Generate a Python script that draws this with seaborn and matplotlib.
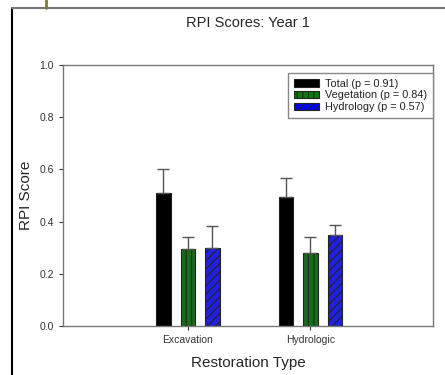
import pandas as pd
import matplotlib.pyplot as plt
import seaborn as sns
from matplotlib.lines import Line2D
from matplotlib.patches import Patch

# values
restoration_types = ["Excavation", "Hydrologic"]
components = ["Total", "Vegetation", "Hydrology"]
legend_labels = ["Total (p = 0.91)", "Vegetation (p = 0.84)", "Hydrology (p = 0.57)"]
total_mean = [0.51, 0.495]
total_err = [0.09, 0.073]
veg_mean = [0.295, 0.28]
veg_err = [0.045, 0.06]
hydro_mean = [0.30, 0.35]
hydro_err = [0.085, 0.037]

colors = ["#000000", "#0b7a0b", "#0000ff"]
hatches = [None, "|||", "////"]


def main():
    df = pd.DataFrame({
        "Type": restoration_types * 3,
        "Component": [c for c in components for _ in restoration_types],
        "Score": total_mean + veg_mean + hydro_mean,
        "Err": total_err + veg_err + hydro_err,
    })

    sns.set_style("ticks")
    plt.rcParams["font.family"] = ["Liberation Sans", "DejaVu Sans"]
    plt.rcParams["hatch.linewidth"] = 0.8

    fig = plt.figure(figsize=(4.45, 3.75), dpi=100)
    ax = fig.add_axes([0.1416, 0.1307, 0.8314, 0.696])

    sns.barplot(
        data=df, x="Type", y="Score", hue="Component",
        hue_order=components, palette=colors,
        width=0.6, gap=0.4, errorbar=None,
        edgecolor="#222222", linewidth=0.8, legend=False, ax=ax,
    )

    # hatches + error bars (upper only) on each bar
    for cont, comp, h in zip(ax.containers, components, hatches):
        sub = df[df["Component"] == comp]
        for patch, (_, row) in zip(cont.patches, sub.iterrows()):
            if h:
                patch.set_hatch(h)
            xc = patch.get_x() + patch.get_width() / 2
            ax.errorbar(xc, row["Score"], yerr=[[0], [row["Err"]]],
                        fmt="none", ecolor="#555555", elinewidth=1.0,
                        capsize=4, capthick=1.0, zorder=1)

    ax.set_xlim(-1.02, 2.0)
    ax.set_ylim(0, 1.0)
    ax.set_yticks([0.0, 0.2, 0.4, 0.6, 0.8, 1.0])
    ax.set_yticklabels(["0.0", "0.2", "0.4", "0.6", "0.8", "1.0"])
    ax.tick_params(axis="both", labelsize=7.5, colors="#333333",
                   length=3, width=0.8, direction="out")
    for sp in ax.spines.values():
        sp.set_visible(True)
        sp.set_color("#777777")
        sp.set_linewidth(1.0)

    ax.set_xlabel("Restoration Type", fontsize=11, labelpad=8)
    ax.set_ylabel("RPI Score", fontsize=11, labelpad=5)
    ax.set_title("RPI Scores: Year 1", fontsize=10.5, pad=27)

    handles = [Patch(facecolor=c, edgecolor="#222222", hatch=h, linewidth=0.8)
               for c, h in zip(colors, hatches)]
    leg = ax.legend(handles, legend_labels, loc="upper right",
                    bbox_to_anchor=(1.0, 0.97), fontsize=7.8,
                    frameon=True, fancybox=False, framealpha=1,
                    handlelength=2.3, handleheight=0.65, handletextpad=0.6,
                    labelspacing=0.15, borderpad=0.55, borderaxespad=0.0)
    leg.get_frame().set_edgecolor("#888888")
    leg.get_frame().set_linewidth(1.0)
    for t in leg.get_texts():
        t.set_color("#222222")

    # frame lines of the original screenshot
    fig.add_artist(Line2D([0.027, 0.027], [0.0, 0.979], color="black", lw=1.5))
    fig.add_artist(Line2D([0.027, 1.0], [0.979, 0.979], color="#777777", lw=1.5))
    fig.add_artist(Line2D([0.103, 0.103], [0.979, 1.0], color="#7a7a3a", lw=2))

    fig.savefig("out.png", dpi=100)


if __name__ == "__main__":
    main()
